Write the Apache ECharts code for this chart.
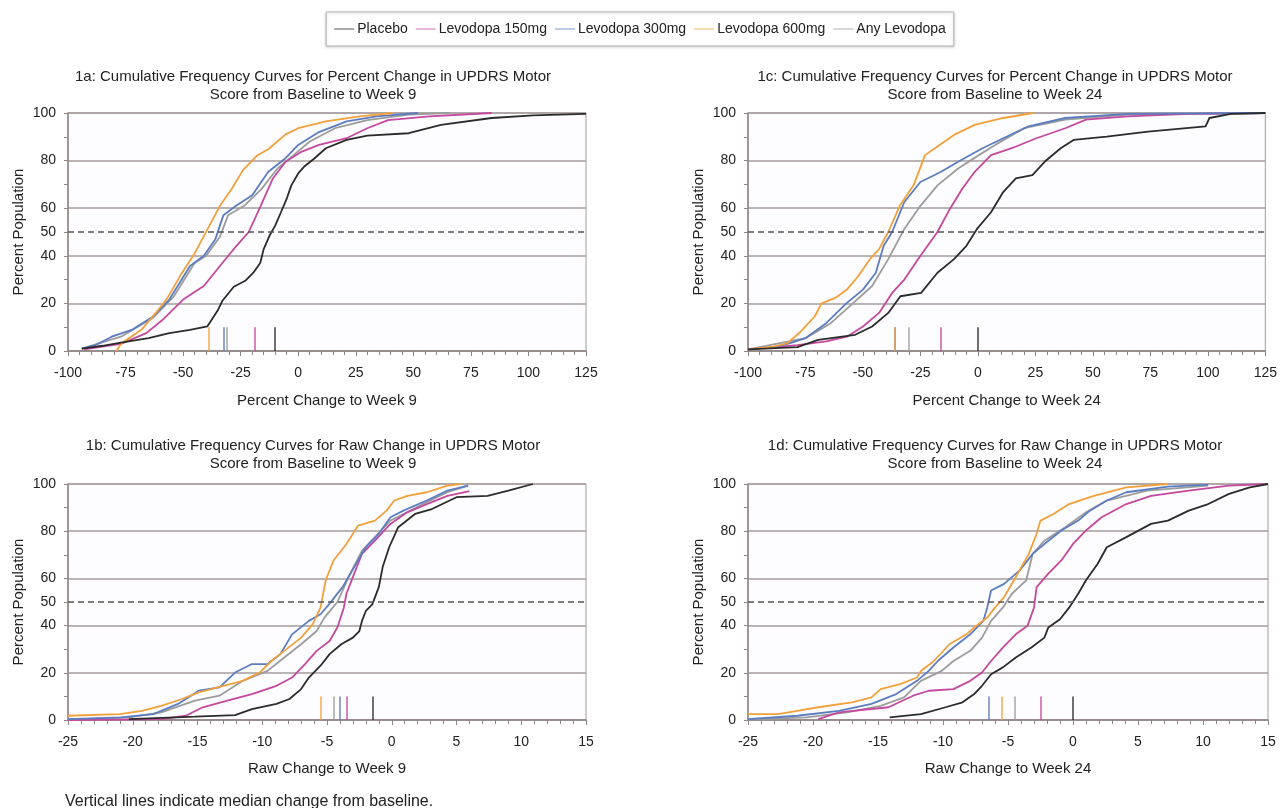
<!DOCTYPE html>
<html><head><meta charset="utf-8">
<script src="https://cdn.jsdelivr.net/npm/echarts@6/dist/echarts.min.js"></script>
<style>html,body{margin:0;padding:0;background:#fff}#c{width:1280px;height:808px}</style>
</head><body><div id="c"></div>
<script>
// ---------- DATA ----------
const seriesNames = ['Placebo','Levodopa 150mg','Levodopa 300mg','Levodopa 600mg','Any Levodopa'];
const yTickLabels = [0,20,40,50,60,80,100];
const panelTitles = [
  '1a: Cumulative Frequency Curves for Percent Change in UPDRS Motor\nScore from Baseline to Week 9',
  '1c: Cumulative Frequency Curves for Percent Change in UPDRS Motor\nScore from Baseline to Week 24',
  '1b: Cumulative Frequency Curves for Raw Change in UPDRS Motor\nScore from Baseline to Week 9',
  '1d: Cumulative Frequency Curves for Raw Change in UPDRS Motor\nScore from Baseline to Week 24'
];
const xAxisNames = ['Percent Change to Week 9','Percent Change to Week 24','Raw Change to Week 9','Raw Change to Week 24'];
const yAxisName = 'Percent Population';
const footnote = 'Vertical lines indicate median change from baseline.';

// 1a  percent change week 9
const a_placebo = [[-94,1],[-85,2.2],[-77,3.5],[-65,5.4],[-56,7.5],[-47,8.9],[-39.5,10.3],[-35,17],[-33,21],[-28,27],[-23,29.5],[-19.5,32.9],[-16.5,37],[-15,42.8],[-12.5,48.4],[-10,52.7],[-7.5,58.3],[-5,64],[-3,69.6],[0,74.6],[2.5,77.4],[7,80.9],[12,85.2],[21,88.7],[30,90.5],[48,91.5],[62,95],[84,97.9],[102,99],[125,99.6]];
const a_l150 = [[-93,0.7],[-77,3],[-66,7.5],[-59,13],[-50,21.6],[-41,27.3],[-34,35.7],[-27,44],[-21.5,50],[-16.3,61],[-11,72.5],[-5.5,79.5],[1.6,83.8],[9,86.6],[21,89.4],[30,93.6],[39,97],[57,98.6],[84,100]];
const a_l300 = [[-94,1],[-88,2.5],[-81,6],[-72,9],[-63,14.5],[-56,21.6],[-47,35.7],[-41,40],[-36,47],[-32.5,57],[-27,61],[-20,65.4],[-13,75.3],[-5.5,81],[0,86.6],[9,92],[21,96.5],[34,98.6],[52,100]];
const a_l600 = [[-79,0],[-77,3],[-68,9],[-61,17],[-57,22],[-51,32],[-45,41],[-39.5,51],[-34,61],[-29,68],[-24,76],[-18,82],[-12.7,85],[-5.5,91],[0,93.6],[12,96.5],[26.6,98.6],[41,100]];
const a_any = [[-94,1],[-77,6],[-63,14],[-54,23],[-45,37],[-40,40],[-34,48],[-30.5,57],[-23.5,61],[-16,68],[-9,76.7],[-2,82.3],[5,88],[16,93.6],[30,97],[48,99.3],[66,100]];
const a_medians = [-10,-19,-32.5,-39,-31];

// 1c  percent change week 24
const c_placebo = [[-100,0.7],[-78.5,1.6],[-69.5,4.7],[-53.4,6.8],[-46,10.3],[-39,16],[-33.7,23],[-24.7,24.4],[-17.6,32.9],[-10.4,38.6],[-5,44.2],[-0.4,51.3],[5.7,58.3],[11,66.8],[16.5,72.5],[23.7,73.9],[29,79.5],[36,85.2],[41.6,88.7],[56,90.1],[74,92.2],[99,94.4],[100.7,97.9],[110,99.6],[125,100]];
const c_l150 = [[-100,0.7],[-78.5,2.5],[-66,4],[-57,6],[-50,10.3],[-43,16],[-37.3,24.4],[-32,30],[-25,40],[-17.6,50],[-12.2,59.7],[-6.8,68.2],[-1.4,75.3],[5.7,82.3],[14.7,85.2],[25.4,89.4],[38,93.6],[47,97.2],[65,98.6],[92,99.6],[125,100]];
const c_l300 = [[-100,0.7],[-89,1.5],[-82,3.2],[-75,5.4],[-66,11.7],[-57,20.2],[-50,25.8],[-44.4,32.9],[-41,44.2],[-37.3,50],[-32,62.6],[-25,71],[-16,75.3],[-8.6,79.5],[2,85.2],[11,89.4],[22,94.4],[38,97.9],[65,99.6],[125,100]];
const c_l600 = [[-100,0.7],[-89,1.8],[-83,3.2],[-77,8.2],[-71,14.5],[-68,20],[-62,22.3],[-57,25.8],[-52,31.5],[-47,38.6],[-43,42.8],[-39,50],[-34,61],[-28,69.6],[-23,82.3],[-17.6,85.9],[-10.4,90.8],[-1.4,95],[11,97.9],[24,100]];
const c_any = [[-100,0.7],[-75,5.4],[-64,11.7],[-55,19.5],[-46,27.3],[-39,38.6],[-32,51.3],[-25,61],[-17.6,69.6],[-8.6,76.7],[0.4,82.3],[7.5,86.6],[20,93.6],[38,97.2],[65,99.3],[125,100]];
const c_medians = [0,-16,-36,-36,-30];

// 1b  raw change week 9
const b_placebo = [[-20.3,0.4],[-15.2,1.4],[-12.1,2.1],[-10.8,4.6],[-8.9,6.8],[-7.9,8.9],[-7,13.1],[-6.4,18],[-5.5,23],[-4.8,27.9],[-3.9,32.1],[-3,34.9],[-2.5,37.7],[-2.3,42],[-2,46.2],[-1.5,49],[-1,56.3],[-0.7,64.8],[-0.2,73.2],[0.5,81.7],[1.8,87.3],[3.1,89.4],[5,94.4],[7.4,95],[9,97.2],[10.9,100]];
const b_l150 = [[-25,0],[-17.8,0.4],[-15.9,1.8],[-14.6,5.4],[-12.7,8.2],[-10.8,11],[-8.9,14.5],[-7.7,18],[-6.7,23.7],[-5.8,29.3],[-4.8,33.5],[-4.2,39.2],[-3.7,47.6],[-3.5,53.5],[-2.9,62],[-2.3,70.4],[-1.3,76],[-0.1,83.1],[1.2,88],[2.7,91.5],[4.3,95],[6,97]];
const b_l300 = [[-25,0.4],[-20.9,1.1],[-18.4,2.5],[-16.5,6.8],[-14.9,12.4],[-13.3,13.8],[-12.1,20.1],[-10.8,23.7],[-9.6,23.7],[-8.6,27.9],[-7.7,36.3],[-6.4,42],[-5.5,44.8],[-4.8,49.3],[-3.8,56.3],[-2.9,64.8],[-2,73.2],[-1,78.9],[-0.1,85.9],[0.9,88.7],[2.7,93],[4.3,97.2],[5.9,99.3]];
const b_l600 = [[-25,1.8],[-21,2.5],[-19.3,3.9],[-17.8,6],[-16.2,8.9],[-14.9,11.7],[-13,14.5],[-11.5,16.6],[-10.2,20.1],[-9.3,25],[-8.3,29.3],[-7,34.9],[-6.1,40.6],[-5.5,47.6],[-5.1,59.2],[-4.5,67.6],[-3.5,74.6],[-2.6,82.4],[-1.3,84.5],[-0.4,88.7],[0.2,93],[1.2,95],[2.7,96.5],[4.3,99.3],[5.3,100]];
const b_any = [[-25,0.2],[-20.3,1.1],[-17.8,3.2],[-15.2,8.2],[-13.3,10.3],[-11.5,16.6],[-9.6,20.8],[-8.3,26.5],[-7,32.1],[-5.8,37.7],[-5.2,43.4],[-4.2,50],[-3.2,62],[-2.3,71.8],[-1.3,77.5],[-0.1,84.5],[0.9,87.3],[2.7,92.3],[4.3,96.5],[5.9,99.3]];
const b_medians = [-1.5,-3.5,-4,-5.5,-4.5];

// 1d  raw change week 24
const d_placebo = [[-14.1,1.1],[-11.7,2.5],[-9.8,5.4],[-8.5,7.5],[-7.6,11],[-7,14.5],[-6.3,19.4],[-5.4,22.3],[-4.4,26.5],[-3.2,30.7],[-2.2,34.9],[-1.9,39.2],[-1,42.7],[-0.3,47.6],[0.4,53.5],[1,59.2],[1.9,66.2],[2.6,73.2],[4.1,77.5],[6,83.1],[7.3,84.5],[8.9,88.7],[10.4,91.5],[12,95.8],[13.6,98.6],[15,100]];
const d_l150 = [[-19.6,0.4],[-18,3.2],[-14.2,5.4],[-12.3,10.3],[-11.1,12.4],[-9.2,13.1],[-7.9,16.6],[-7,20.1],[-6.3,25],[-5.4,30.7],[-4.4,36.3],[-3.5,39.9],[-3,47.6],[-2.8,56.3],[-1.9,62],[-0.9,67.6],[0,74.6],[1,80.3],[2.2,85.9],[4.1,91.5],[6,95],[8.9,97.2],[12,99.3],[15,100]];
const d_l300 = [[-25,0.4],[-21.2,1.8],[-18,3.9],[-15.5,6.8],[-13.6,11],[-12,16.6],[-11.1,20.8],[-10.4,25],[-9.2,30.7],[-7.9,36.3],[-6.9,42],[-6.6,47.6],[-6.3,54.9],[-5.3,57.7],[-4.1,63.4],[-3.1,70.4],[-2.2,74.6],[-0.9,80.3],[0.4,84.5],[1.3,88.7],[2.6,93],[4.1,96.5],[7.3,98.9],[10.4,99.7]];
const d_l600 = [[-25,2.5],[-22.7,2.5],[-21.2,3.9],[-19.6,5.4],[-17,7.5],[-15.5,9.6],[-14.8,13.1],[-13.3,15.2],[-12,18],[-11.7,20.8],[-10.7,25],[-9.5,32.1],[-8.2,36.3],[-7.6,39.2],[-6.6,43.4],[-6,47.6],[-5.3,52.1],[-4.4,60.6],[-3.4,70.4],[-2.8,78.9],[-2.5,84.5],[-1.5,87.3],[-0.3,91.5],[1.6,95],[4.1,98.6],[7.3,100]];
const d_any = [[-25,0.2],[-20.5,1.1],[-17.4,3.2],[-14.8,6],[-13,9.6],[-11.7,16.6],[-10.1,20.8],[-9.2,25],[-7.9,29.3],[-7,34.9],[-6.3,42],[-5.4,47.6],[-4.7,53.5],[-3.6,59.2],[-3.1,70.4],[-2.2,76],[-0.6,81.7],[1,88],[2.6,93],[5.7,97.2],[10.4,99.3]];
const d_medians = [0,-2.5,-6.5,-5.5,-4.5];

const medianTop = 10;
const xMins = [-100,-100,-25,-25];
const xMaxs = [125,125,15,15];
const xSteps = [25,25,5,5];

// ---------- STYLE / LAYOUT ----------
const colors = ['#2b2b2b','#c4489e','#5b7dc0','#f2a03c','#9c9c9c'];
const FONT = '"Liberation Sans", Arial, Helvetica, sans-serif';
const gridCol = '#a59b9b';
const axisCol = '#8f8585';
const panels = [
  {data:[a_placebo,a_l150,a_l300,a_l600,a_any], med:a_medians, grid:{left:68, top:113, width:518, height:238}, titleX:308, titleTop:63, nameGap:42},
  {data:[c_placebo,c_l150,c_l300,c_l600,c_any], med:c_medians, grid:{left:748, top:113, width:520, height:238}, titleX:990, titleTop:63, nameGap:42},
  {data:[b_placebo,b_l150,b_l300,b_l600,b_any], med:b_medians, grid:{left:68, top:484, width:518, height:236}, titleX:308, titleTop:432, nameGap:41},
  {data:[d_placebo,d_l150,d_l300,d_l600,d_any], med:d_medians, grid:{left:748, top:484, width:520, height:236}, titleX:990, titleTop:432, nameGap:41}
];

const option = {
  backgroundColor:'#ffffff',
  animation:false,
  textStyle:{fontFamily:FONT},
  legend:{
    data: seriesNames,
    top:12, left:'center',
    orient:'horizontal',
    padding:[10,8,10,8],
    itemGap:8, itemWidth:20, itemHeight:2,
    icon:'rect',
    borderColor:'#b0b0b0', borderWidth:1,
    backgroundColor:'#fff',
    shadowColor:'rgba(0,0,0,0.15)', shadowBlur:3, shadowOffsetY:1,
    textStyle:{fontSize:14, color:'#222', fontFamily:FONT, padding:[0,0,0,-2]},
    itemStyle:{opacity:0.4}
  },
  title: panels.map((p,i)=>({
    text: panelTitles[i],
    left: p.titleX, top: p.titleTop, textAlign:'center',
    textStyle:{fontSize:15, fontWeight:'normal', color:'#222', lineHeight:18, fontFamily:FONT}
  })).concat([{
    text: footnote, left:60, top:789,
    textStyle:{fontSize:16, fontWeight:'normal', color:'#222', fontFamily:FONT}
  }]),
  grid: panels.map(p=>Object.assign({show:true, borderColor:gridCol, borderWidth:1, backgroundColor:'#fdfdff'}, p.grid)),
  xAxis: panels.map((p,i)=>({
    type:'value', gridIndex:i, min:xMins[i], max:xMaxs[i], interval:xSteps[i],
    name: xAxisNames[i], nameLocation:'middle', nameGap:p.nameGap,
    nameTextStyle:{fontSize:15, color:'#222', fontFamily:FONT},
    axisLine:{show:true, onZero:false, lineStyle:{color:axisCol, width:1.5}},
    axisTick:{show:true, length:5, lineStyle:{color:axisCol}},
    minorTick:{show:true, splitNumber:5, length:4, lineStyle:{color:axisCol}},
    axisLabel:{fontSize:14, color:'#222', margin:15, fontFamily:FONT},
    splitLine:{show:false}
  })),
  yAxis: panels.map((p,i)=>({
    type:'value', gridIndex:i, min:0, max:100, interval:10,
    name:yAxisName, nameLocation:'middle', nameGap:42,
    nameTextStyle:{fontSize:15, color:'#222', fontFamily:FONT},
    axisLine:{show:true, onZero:false, lineStyle:{color:axisCol, width:1.5}},
    axisTick:{show:true, length:4, lineStyle:{color:axisCol}},
    axisLabel:{fontSize:14, color:'#222', margin:12, fontFamily:FONT,
      formatter:v=> yTickLabels.indexOf(v)>=0 ? String(v) : ''},
    splitLine:{show:true, lineStyle:{color:[gridCol,'rgba(0,0,0,0)'], width:1.5}}
  })),
  series: []
};

panels.forEach((p,pi)=>{
  option.series.push({
    type:'line', name:'ref50_'+pi, xAxisIndex:pi, yAxisIndex:pi, data:[], silent:true,
    markLine:{silent:true, symbol:'none', label:{show:false},
      data:[{yAxis:50}],
      lineStyle:{color:'#555', type:[6,4], width:1.5}}
  });
  const order = [4,1,2,3,0];
  order.forEach(k=>{
    option.series.push({
      type:'line', name:seriesNames[k], xAxisIndex:pi, yAxisIndex:pi,
      data:p.data[k], showSymbol:false, symbol:'none', smooth:false,
      color:colors[k],
      lineStyle:{color:colors[k], width:1.8},
      z:3,
      markLine:{silent:true, symbol:'none', label:{show:false},
        lineStyle:{color:colors[k], type:'solid', width:1.6, opacity:0.85},
        data:[[{coord:[p.med[k],0]},{coord:[p.med[k],medianTop]}]]}
    });
  });
});

const chart = echarts.init(document.getElementById('c'), null, {renderer:'canvas'});
chart.setOption(option);
</script>
</body></html>
